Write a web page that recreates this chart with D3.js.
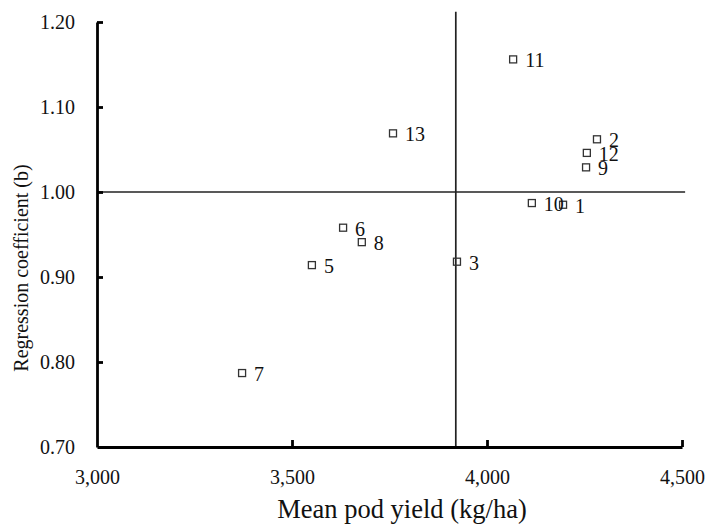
<!DOCTYPE html>
<html>
<head>
<meta charset="utf-8">
<script src="https://cdn.jsdelivr.net/npm/d3@7"></script>
<style>
  body { margin: 0; background: #fff; }
  svg { display: block; }
</style>
</head>
<body>
<script>
// genotype numbers, mean pod yield and regression coefficient
var genotypes = ["1","2","3","5","6","7","8","9","10","11","12","13"];
var yields    = [4195, 4282, 3923, 3551, 3631, 3372, 3679, 4254, 4115, 4067, 4256, 3759];
var coefs     = [0.985, 1.062, 0.918, 0.914, 0.958, 0.787, 0.941, 1.029, 0.987, 1.156, 1.046, 1.069];

var xTicks = [3000, 3500, 4000, 4500];
var yTicks = [0.70, 0.80, 0.90, 1.00, 1.10, 1.20];

var meanYield = 3920;   // vertical reference line
var meanB = 1.00;       // horizontal reference line

var w = 724, h = 525;
var font = "'Liberation Serif', 'Times New Roman', serif";

var svg = d3.select("body").append("svg")
  .attr("width", w)
  .attr("height", h);

svg.append("rect").attr("width", w).attr("height", h).attr("fill", "#fff");

var x = d3.scaleLinear().domain([3000, 4500]).range([97, 682]);
var y = d3.scaleLinear().domain([0.70, 1.20]).range([447, 22]);

// reference lines
svg.append("line")
  .attr("x1", x(meanYield)).attr("x2", x(meanYield))
  .attr("y1", y(1.212)).attr("y2", y(0.70))
  .attr("stroke", "#222").attr("stroke-width", 1.7);

svg.append("line")
  .attr("x1", x(3000)).attr("x2", x(4508))
  .attr("y1", y(meanB)).attr("y2", y(meanB))
  .attr("stroke", "#222").attr("stroke-width", 1.7);

// axes
var yAxis = svg.append("g")
  .attr("transform", "translate(" + x(3000) + ",0)")
  .call(d3.axisLeft(y).tickValues(yTicks).tickFormat(d3.format(".2f"))
    .tickSizeInner(-6).tickSizeOuter(0).tickPadding(22));

var xAxis = svg.append("g")
  .attr("transform", "translate(0," + y(0.70) + ")")
  .call(d3.axisBottom(x).tickValues(xTicks).tickFormat(d3.format(","))
    .tickSizeInner(-7).tickSizeOuter(0).tickPadding(22));

[xAxis, yAxis].forEach(function(g) {
  g.select(".domain").attr("stroke", "#000").attr("stroke-width", 2.8);
  g.selectAll(".tick line").attr("stroke", "#000").attr("stroke-width", 2.8);
  g.selectAll("text")
    .attr("font-family", font)
    .attr("font-size", "20px")
    .attr("fill", "#111");
});
yAxis.selectAll(".tick").filter(function(d) { return d === 0.70; }).select("line").remove();
xAxis.selectAll(".tick").filter(function(d) { return d === 3000; }).select("line").remove();
xAxis.selectAll("text").attr("dy", null).attr("y", 37);

// points
svg.selectAll(".pt")
  .data(genotypes)
  .enter()
  .append("rect")
  .attr("class", "pt")
  .attr("x", function(d, i) { return x(yields[i]) - 3.5; })
  .attr("y", function(d, i) { return y(coefs[i]) - 3.5; })
  .attr("width", 7)
  .attr("height", 7)
  .attr("fill", "none")
  .attr("stroke", "#333")
  .attr("stroke-width", 1.3);

svg.selectAll(".lbl")
  .data(genotypes)
  .enter()
  .append("text")
  .attr("class", "lbl")
  .text(function(d) { return d; })
  .attr("x", function(d, i) { return x(yields[i]) + 12; })
  .attr("y", function(d, i) { return y(coefs[i]) + 8; })
  .attr("font-family", font)
  .attr("font-size", "20px")
  .attr("fill", "#111");

// axis titles
svg.append("text")
  .text("Mean pod yield (kg/ha)")
  .attr("x", 402)
  .attr("y", 518)
  .attr("text-anchor", "middle")
  .attr("font-family", font)
  .attr("font-size", "26.5px")
  .attr("fill", "#111");

svg.append("text")
  .text("Regression coefficient (b)")
  .attr("transform", "translate(28,268) rotate(-90)")
  .attr("text-anchor", "middle")
  .attr("font-family", font)
  .attr("font-size", "20px")
  .attr("fill", "#111");
</script>
</body>
</html>
